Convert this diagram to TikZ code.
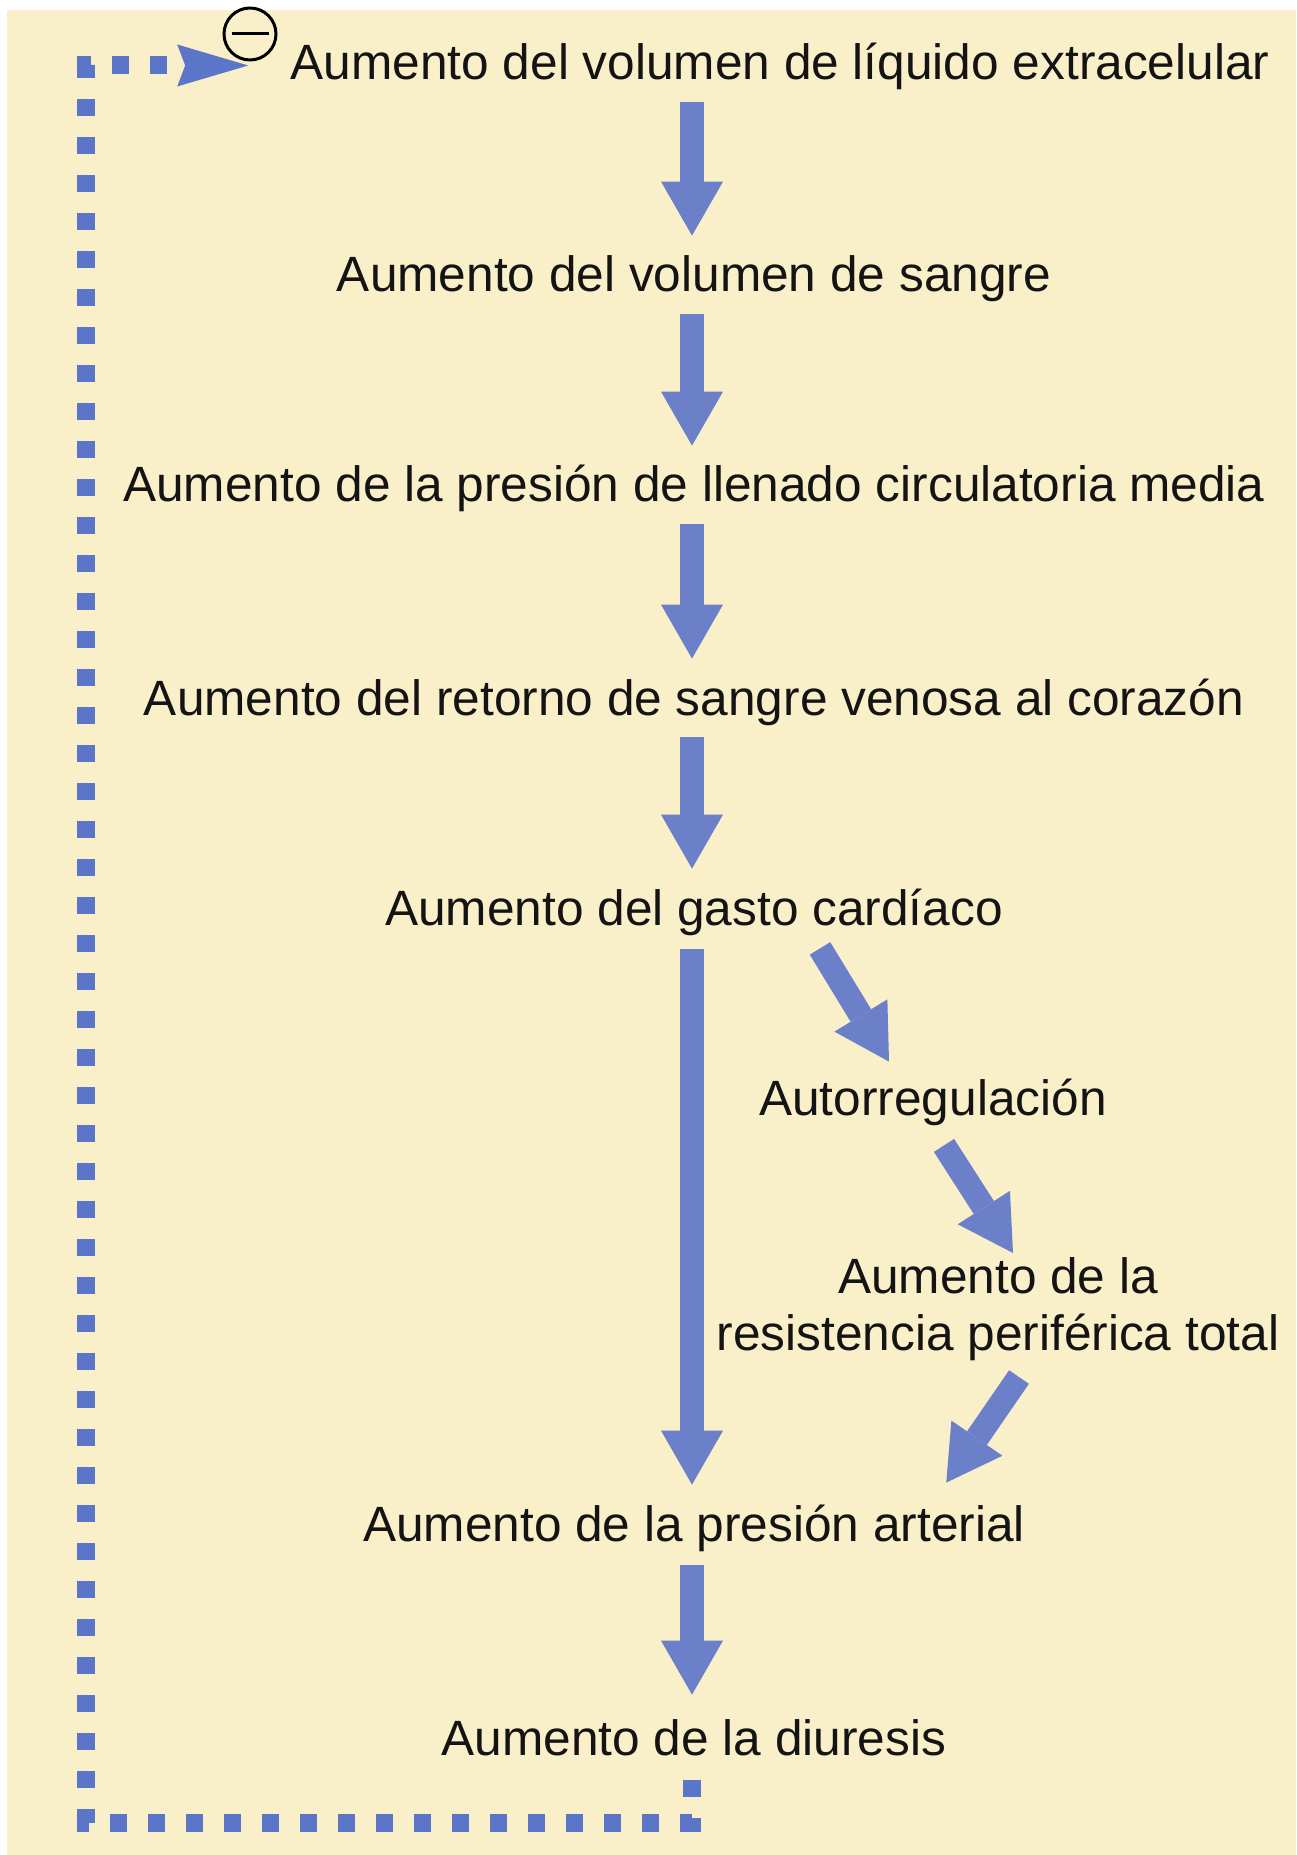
\documentclass[tikz,border=0pt]{standalone}
\usepackage{fontspec}
\setmainfont{Liberation Sans}
\usetikzlibrary{arrows.meta,calc}
\definecolor{bgcream}{HTML}{F9EFC9}
\definecolor{arrblue}{HTML}{6B80C9}
\definecolor{dotblue}{HTML}{5B75C8}
\definecolor{txt}{HTML}{141414}
\begin{document}
\begin{tikzpicture}[x=0.5pt,y=-0.5pt,
  lbl/.style={font=\fontsize{24.8pt}{28.5pt}\selectfont, text=txt, inner sep=0pt, text height=17.5pt, text depth=5pt, anchor=base},
  lbltwo/.style={font=\fontsize{24.8pt}{28.5pt}\selectfont, text=txt, inner sep=0pt, align=center},
  blk/.style={draw=arrblue, line width=12pt, -{Triangle[width=31pt,length=27pt,line width=0pt,fill=arrblue]}},
  fb/.style={draw=dotblue, line width=9pt, dash pattern=on 8.5pt off 10.5pt, -{Stealth[length=35.5pt,width=21pt,inset=4pt,line width=0pt,fill=dotblue]}}
]
\useasboundingbox (0,0) rectangle (1296,1855);
\fill[white] (0,0) rectangle (1296,1855);
\fill[bgcream] (7,10) rectangle (1296,1855);

\node[lbl] (t1) at (780,80) {Aumento del volumen de líquido extracelular};
\node[lbl] (t2) at (694,292) {Aumento del volumen de sangre};
\node[lbl] (t3) at (694,502) {Aumento de la presión de llenado circulatoria media};
\node[lbl] (t4) at (694,715) {Aumento del retorno de sangre venosa al corazón};
\node[lbl] (t5) at (694,925) {Aumento del gasto cardíaco};
\node[lbl] (au) at (933,1115) {Autorregulación};
\node[lbltwo] (rs) at (998,1309) {Aumento de la\\resistencia periférica total};
\node[lbl] (ta) at (694,1541) {Aumento de la presión arterial};
\node[lbl] (td) at (694,1755) {Aumento de la diuresis};

\node[circle, draw=black, line width=1.5pt, minimum size=26pt, inner sep=0pt] (mn) at (250,34) {};
\draw[black, line width=1.5pt] ($(mn.west)+(9,0)$) -- ($(mn.east)+(-9,0)$);

\draw[blk] ($(t1.south -| t2.center)+(-2,12)$) -- ($(t2.north)+(-2,-21)$);
\draw[blk] ($(t2.south)+(-2,12)$) -- ($(t3.north)+(-2,-21)$);
\draw[blk] ($(t3.south)+(-2,12)$) -- ($(t4.north)+(-2,-21)$);
\draw[blk] ($(t4.south)+(-2,12)$) -- ($(t5.north)+(-2,-21)$);
\draw[blk] ($(t5.south)+(-2,14)$) -- ($(ta.north)+(-2,-21)$);
\draw[blk] ($(ta.south)+(-2,14)$) -- ($(td.north)+(-2,-25)$);
\draw[blk] ($(t5.south)+(126,13)$) -- ($(au.north)+(-44,-18)$);
\draw[blk] ($(au.south)+(11,20)$) -- ($(rs.north)+(15,-4)$);
\draw[blk] ($(rs.south)+(21,16)$) -- ($(ta.north east)+(-79,-23)$);

\coordinate (fbstart) at ($(td.south)+(-2,15)$);
\coordinate (fbl) at (86,1823);
\coordinate (fbend) at ($(t1.west)+(-42,-2)$);
\draw[fb] (fbstart) -- (fbstart |- fbl) -- (fbl) -- (fbl |- fbend) -- (fbend);
\end{tikzpicture}
\end{document}
